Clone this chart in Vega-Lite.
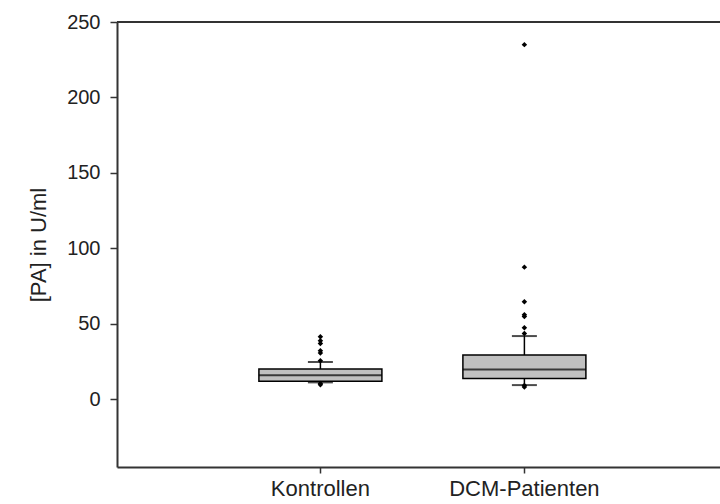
{
  "$schema": "https://vega.github.io/schema/vega-lite/v6.json",
  "autosize": {"type": "none"},
  "padding": {"left": 117, "top": 22, "right": 0, "bottom": 37},
  "width": 603,
  "height": 445,
  "background": "white",
  "config": {
    "view": {"stroke": null},
    "font": "Liberation Sans"
  },
  "datasets": {
    "boxes": [
      {"group": "Kontrollen", "lower": 11.1, "q1": 11.9, "median": 15.9, "q3": 19.9, "upper": 24.6},
      {"group": "DCM-Patienten", "lower": 9.3, "q1": 13.7, "median": 19.7, "q3": 29.2, "upper": 41.8}
    ],
    "outliers": [
      {"group": "Kontrollen", "value": 41.3},
      {"group": "Kontrollen", "value": 38.7},
      {"group": "Kontrollen", "value": 36.9},
      {"group": "Kontrollen", "value": 32.0},
      {"group": "Kontrollen", "value": 30.5},
      {"group": "Kontrollen", "value": 25.5},
      {"group": "Kontrollen", "value": 10.3},
      {"group": "Kontrollen", "value": 9.5},
      {"group": "DCM-Patienten", "value": 235},
      {"group": "DCM-Patienten", "value": 87.5},
      {"group": "DCM-Patienten", "value": 64.5},
      {"group": "DCM-Patienten", "value": 56.0},
      {"group": "DCM-Patienten", "value": 54.8},
      {"group": "DCM-Patienten", "value": 47.3},
      {"group": "DCM-Patienten", "value": 43.5},
      {"group": "DCM-Patienten", "value": 9.0},
      {"group": "DCM-Patienten", "value": 8.0}
    ]
  },
  "layer": [
    {
      "data": {"name": "boxes"},
      "mark": {"type": "rule", "color": "#333333", "strokeWidth": 2},
      "encoding": {
        "y": {"datum": 250, "type": "quantitative"}
      }
    },
    {
      "data": {"name": "boxes"},
      "mark": {"type": "rule", "color": "black", "strokeWidth": 1.5},
      "encoding": {
        "x": {
          "field": "group", "type": "nominal",
          "scale": {"type": "band", "domain": ["Kontrollen", "DCM-Patienten"], "paddingInner": 0, "paddingOuter": 0.478, "align": 0.52},
          "axis": {
            "title": null, "labelAngle": 0, "labelFontSize": 22, "labelColor": "#222222",
            "labelPadding": 5, "domainColor": "#333333", "domainWidth": 2,
            "tickColor": "#333333", "tickSize": 6, "tickWidth": 1.5
          }
        },
        "y": {
          "field": "lower", "type": "quantitative",
          "scale": {"domain": [-45, 250], "nice": false, "zero": false},
          "axis": {
            "values": [0, 50, 100, 150, 200, 250],
            "title": "[PA] in U/ml", "titleFontSize": 22, "titleFontWeight": "normal",
            "titleColor": "#222222", "titlePadding": 16,
            "labelFontSize": 20, "labelColor": "#222222", "labelPadding": 10,
            "tickSize": 7, "tickColor": "#333333", "tickWidth": 1.5,
            "domainColor": "#333333", "domainWidth": 2, "grid": false
          }
        },
        "y2": {"field": "upper"}
      }
    },
    {
      "data": {"name": "boxes"},
      "mark": {"type": "tick", "color": "black", "size": 25, "thickness": 2},
      "encoding": {
        "x": {"field": "group", "type": "nominal"},
        "y": {"field": "lower", "type": "quantitative"}
      }
    },
    {
      "data": {"name": "boxes"},
      "mark": {"type": "tick", "color": "black", "size": 25, "thickness": 2},
      "encoding": {
        "x": {"field": "group", "type": "nominal"},
        "y": {"field": "upper", "type": "quantitative"}
      }
    },
    {
      "data": {"name": "boxes"},
      "mark": {"type": "bar", "size": 123, "fill": "#c0c0c0", "stroke": "black", "strokeWidth": 1.5},
      "encoding": {
        "x": {"field": "group", "type": "nominal"},
        "y": {"field": "q1", "type": "quantitative"},
        "y2": {"field": "q3"}
      }
    },
    {
      "data": {"name": "boxes"},
      "mark": {"type": "tick", "color": "black", "size": 123, "thickness": 2},
      "encoding": {
        "x": {"field": "group", "type": "nominal"},
        "y": {"field": "median", "type": "quantitative"}
      }
    },
    {
      "data": {"name": "outliers"},
      "mark": {"type": "point", "shape": "diamond", "filled": true, "color": "black", "size": 30, "opacity": 1},
      "encoding": {
        "x": {"field": "group", "type": "nominal"},
        "y": {"field": "value", "type": "quantitative"}
      }
    }
  ]
}
